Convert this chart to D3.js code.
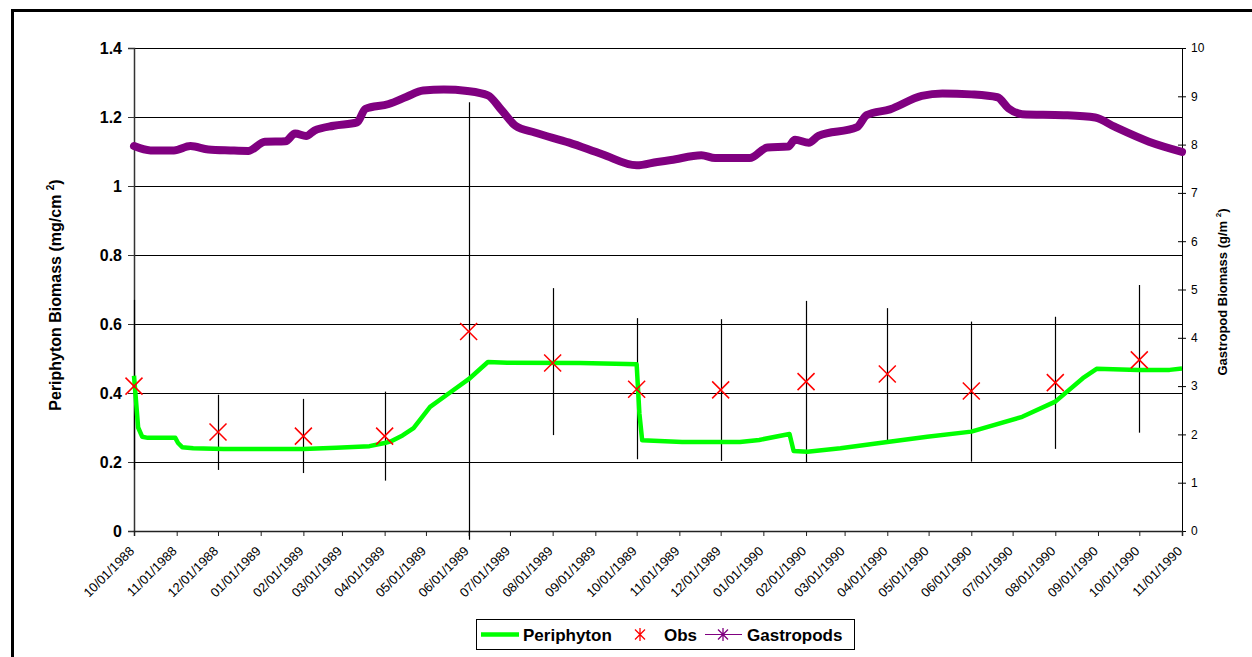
<!DOCTYPE html>
<html>
<head>
<meta charset="utf-8">
<script src="https://cdn.jsdelivr.net/npm/d3@7/dist/d3.min.js"></script>
<style>
  body { margin: 0; background: #fff; }
  svg { display: block; font-family: Arial, "Liberation Sans", sans-serif; }
</style>
</head>
<body>
<div id="chart-area"></div>
<script>
// ---- data ----
// Periphyton model output (mg/cm2), left axis
const periDates = ["1988-10-01","1988-10-04","1988-10-07","1988-10-11","1988-10-31","1988-11-02","1988-11-05",
  "1988-11-13","1988-12-05","1989-02-01","1989-02-25","1989-03-21","1989-04-01","1989-04-05","1989-04-14",
  "1989-04-22","1989-05-04","1989-05-18","1989-06-01","1989-06-15","1989-06-29","1989-08-21","1989-09-24",
  "1989-10-01","1989-10-03","1989-10-05","1989-11-03","1989-12-15","1989-12-29","1990-01-20","1990-01-23",
  "1990-02-02","1990-02-26","1990-04-01","1990-04-30","1990-06-01","1990-07-08","1990-08-01","1990-08-21",
  "1990-08-31","1990-09-30","1990-10-23","1990-11-01"];
const periValues = [0.45, 0.30, 0.273, 0.27, 0.27, 0.255, 0.243,
  0.24, 0.238, 0.238, 0.241, 0.246, 0.255, 0.259, 0.277,
  0.298, 0.36, 0.40, 0.44, 0.49, 0.488, 0.487, 0.484,
  0.483, 0.34, 0.263, 0.258, 0.258, 0.264, 0.281, 0.232,
  0.23, 0.24, 0.258, 0.273, 0.288, 0.331, 0.375, 0.443,
  0.470, 0.467, 0.467, 0.471];

// Observations with error bars (mg/cm2)
const obsDates = ["1988-10-01","1988-12-01","1989-02-01","1989-04-01","1989-06-01","1989-08-01","1989-10-01",
  "1989-12-01","1990-02-01","1990-04-01","1990-06-01","1990-08-01","1990-10-01"];
const obsValues = [0.42, 0.287, 0.275, 0.275, 0.578, 0.487, 0.411, 0.409, 0.433, 0.455, 0.406, 0.43, 0.496];
const obsLow    = [0.177, 0.177, 0.168, 0.146, -0.025, 0.278, 0.208, 0.203, 0.2, 0.258, 0.201, 0.238, 0.285];
const obsHigh   = [0.67, 0.395, 0.383, 0.404, 1.243, 0.704, 0.617, 0.614, 0.667, 0.646, 0.607, 0.621, 0.713];

// Gastropods (g/m2), right axis
const gastroDates = ["1988-10-01","1988-10-13","1988-10-30","1988-11-11","1988-11-24","1988-12-10","1988-12-23",
  "1989-01-04","1989-01-19","1989-01-26","1989-02-03","1989-02-09","1989-02-23","1989-03-12","1989-03-18",
  "1989-04-04","1989-04-17","1989-04-29","1989-05-14","1989-05-31","1989-06-15","1989-06-25","1989-07-05",
  "1989-07-19","1989-08-13","1989-09-06","1989-10-01","1989-10-16","1989-10-26","1989-11-17","1989-11-27",
  "1989-12-22","1990-01-04","1990-01-19","1990-01-24","1990-02-03","1990-02-10","1990-03-10","1990-03-17",
  "1990-04-03","1990-04-26","1990-05-11","1990-06-01","1990-06-20","1990-06-28","1990-07-08","1990-08-07",
  "1990-08-30","1990-09-13","1990-10-08","1990-11-01"];
const gastroValues = [7.97, 7.88, 7.88, 7.97, 7.90, 7.88, 7.87,
  8.06, 8.07, 8.23, 8.18, 8.29, 8.39, 8.46, 8.74,
  8.84, 8.99, 9.12, 9.14, 9.11, 9.02, 8.71, 8.39,
  8.25, 8.04, 7.80, 7.57, 7.64, 7.68, 7.78, 7.72,
  7.72, 7.94, 7.96, 8.10, 8.04, 8.18, 8.36, 8.61,
  8.73, 9.01, 9.06, 9.04, 8.98, 8.75, 8.63, 8.61,
  8.56, 8.37, 8.06, 7.85];

const leftTicks = [0, 0.2, 0.4, 0.6, 0.8, 1, 1.2, 1.4];
const rightTicks = [0, 1, 2, 3, 4, 5, 6, 7, 8, 9, 10];
const legendNames = ["Periphyton", "Obs", "Gastropods"];

// ---- layout ----
const W = 1252, H = 657;
const plot = { left: 134, right: 1182, top: 48, bottom: 531 };
const parse = d3.utcParse("%Y-%m-%d");
const fmt = d3.utcFormat("%m/%d/%Y");

const svg = d3.select("#chart-area").append("svg")
  .attr("width", W).attr("height", H);
svg.append("rect").attr("width", W).attr("height", H).attr("fill", "#fff");

// outer frame (top and left edges visible)
svg.append("line").attr("x1", 11).attr("x2", W).attr("y1", 10.5).attr("y2", 10.5)
  .attr("stroke", "#000").attr("stroke-width", 3);
svg.append("line").attr("x1", 12.5).attr("x2", 12.5).attr("y1", 9).attr("y2", H)
  .attr("stroke", "#000").attr("stroke-width", 3);

// scales
const x = d3.scaleUtc()
  .domain([parse("1988-10-01"), parse("1990-11-01")])
  .range([plot.left, plot.right]);
const yL = d3.scaleLinear().domain([0, 1.4]).range([plot.bottom, plot.top]);
const yR = d3.scaleLinear().domain([0, 10]).range([plot.bottom, plot.top]);

// gridlines
svg.append("g").selectAll("line")
  .data(leftTicks.filter(d => d > 0))
  .join("line")
    .attr("x1", plot.left).attr("x2", plot.right)
    .attr("y1", d => Math.round(yL(d)) + 0.5).attr("y2", d => Math.round(yL(d)) + 0.5)
    .attr("stroke", "#000").attr("stroke-width", 1);

// left axis
const leftAxis = svg.append("g")
  .attr("transform", "translate(" + plot.left + ",0)")
  .call(d3.axisLeft(yL).tickValues(leftTicks).tickSize(6).tickPadding(6)
    .tickFormat(d => String(+d.toFixed(1))));
leftAxis.select(".domain").attr("stroke", "#333").attr("stroke-width", 1.5);
leftAxis.selectAll("line").attr("stroke", "#333");
leftAxis.selectAll("text")
  .attr("font-size", 16).attr("font-weight", "bold").attr("fill", "#000")
  .attr("font-family", "Arial, 'Liberation Sans', sans-serif");

// right axis with crossing ticks
const rightAxis = svg.append("g")
  .attr("transform", "translate(" + plot.right + ",0)")
  .call(d3.axisRight(yR).tickValues(rightTicks).tickSize(4).tickPadding(5));
rightAxis.select(".domain").attr("stroke", "#000");
rightAxis.selectAll(".tick line").attr("x1", -4).attr("stroke", "#000");
rightAxis.selectAll("text")
  .attr("font-size", 12).attr("fill", "#000")
  .attr("font-family", "Arial, 'Liberation Sans', sans-serif");

// bottom axis: monthly ticks, rotated labels
const months = d3.utcMonth.range(parse("1988-10-01"), d3.utcDay.offset(parse("1990-11-01"), 1));
const bottomAxis = svg.append("g")
  .attr("transform", "translate(0," + plot.bottom + ")")
  .call(d3.axisBottom(x).tickValues(months).tickSize(5).tickFormat(""));
bottomAxis.select(".domain").attr("stroke", "#222").attr("stroke-width", 1.5);
bottomAxis.selectAll("line").attr("stroke", "#222");

svg.append("g").selectAll("text")
  .data(months)
  .join("text")
    .attr("transform", d => "translate(" + (x(d) + 1) + "," + (plot.bottom + 21) + ") rotate(-45)")
    .attr("text-anchor", "end")
    .attr("font-size", 13)
    .text(d => fmt(d));

// axis titles
const leftTitle = svg.append("text")
  .attr("transform", "translate(61,295) rotate(-90)")
  .attr("text-anchor", "middle")
  .attr("font-size", 16).attr("font-weight", "bold");
leftTitle.append("tspan").text("Periphyton Biomass (mg/cm ");
leftTitle.append("tspan").attr("font-size", 10).attr("dy", -7).text("2");
leftTitle.append("tspan").attr("dy", 7).text(")");

const rightTitle = svg.append("text")
  .attr("transform", "translate(1227,292) rotate(-90)")
  .attr("text-anchor", "middle")
  .attr("font-size", 13).attr("font-weight", "bold");
rightTitle.append("tspan").text("Gastropod Biomass (g/m ");
rightTitle.append("tspan").attr("font-size", 8).attr("dy", -6).text("2");
rightTitle.append("tspan").attr("dy", 6).text(")");

// gastropod series
const gastro = gastroDates.map((d, i) => ({ date: parse(d), v: gastroValues[i] }));
svg.append("path")
  .datum(gastro)
  .attr("fill", "none")
  .attr("stroke", "#800080")
  .attr("stroke-width", 8)
  .attr("stroke-linejoin", "round")
  .attr("stroke-linecap", "round")
  .attr("d", d3.line().x(d => x(d.date)).y(d => yR(d.v)).curve(d3.curveMonotoneX));

// error bars
const obs = obsDates.map((d, i) => ({ date: parse(d), v: obsValues[i], lo: obsLow[i], hi: obsHigh[i] }));
svg.append("g").selectAll("line")
  .data(obs)
  .join("line")
    .attr("x1", d => Math.round(x(d.date)) + 0.5).attr("x2", d => Math.round(x(d.date)) + 0.5)
    .attr("y1", d => yL(d.hi)).attr("y2", d => yL(d.lo))
    .attr("stroke", "#000").attr("stroke-width", 1.2);

// periphyton series
const peri = periDates.map((d, i) => ({ date: parse(d), v: periValues[i] }));
svg.append("path")
  .datum(peri)
  .attr("fill", "none")
  .attr("stroke", "#00ff00")
  .attr("stroke-width", 4.5)
  .attr("stroke-linejoin", "round")
  .attr("d", d3.line().x(d => x(d.date)).y(d => yL(d.v)));

// observation markers (x shapes)
const m = 8.5;
const obsMarks = svg.append("g").selectAll("g")
  .data(obs)
  .join("g")
    .attr("transform", d => "translate(" + x(d.date) + "," + yL(d.v) + ")");
obsMarks.append("path")
  .attr("d", "M" + -m + "," + -m + "L" + m + "," + m + "M" + -m + "," + m + "L" + m + "," + -m)
  .attr("stroke", "#ff0000").attr("stroke-width", 1.5).attr("fill", "none");

// legend
const legend = svg.append("g").attr("transform", "translate(476,619)");
legend.append("rect")
  .attr("x", 0.5).attr("y", 0.5).attr("width", 378).attr("height", 30)
  .attr("fill", "#fff").attr("stroke", "#000");
const ly = 15.5;
legend.append("line").attr("x1", 5).attr("x2", 43).attr("y1", ly).attr("y2", ly)
  .attr("stroke", "#00ff00").attr("stroke-width", 4.5);
legend.append("text").attr("x", 47).attr("y", ly + 6)
  .attr("font-size", 17).attr("font-weight", "bold").text(legendNames[0]);
const s = 5;
legend.append("path")
  .attr("transform", "translate(164," + ly + ")")
  .attr("d", "M" + -s + "," + -s + "L" + s + "," + s + "M" + -s + "," + s + "L" + s + "," + -s + "M0," + -s * 1.3 + "L0," + s * 1.3)
  .attr("stroke", "#ff0000").attr("stroke-width", 1.3).attr("fill", "none");
legend.append("text").attr("x", 188).attr("y", ly + 6)
  .attr("font-size", 17).attr("font-weight", "bold").text(legendNames[1]);
legend.append("line").attr("x1", 229).attr("x2", 266).attr("y1", ly).attr("y2", ly)
  .attr("stroke", "#800080").attr("stroke-width", 1.2);
legend.append("path")
  .attr("transform", "translate(247," + ly + ")")
  .attr("d", "M" + -s + "," + -s + "L" + s + "," + s + "M" + -s + "," + s + "L" + s + "," + -s + "M0," + -s * 1.3 + "L0," + s * 1.3)
  .attr("stroke", "#800080").attr("stroke-width", 1.3).attr("fill", "none");
legend.append("text").attr("x", 271).attr("y", ly + 6)
  .attr("font-size", 17).attr("font-weight", "bold").text(legendNames[2]);
</script>
</body>
</html>
